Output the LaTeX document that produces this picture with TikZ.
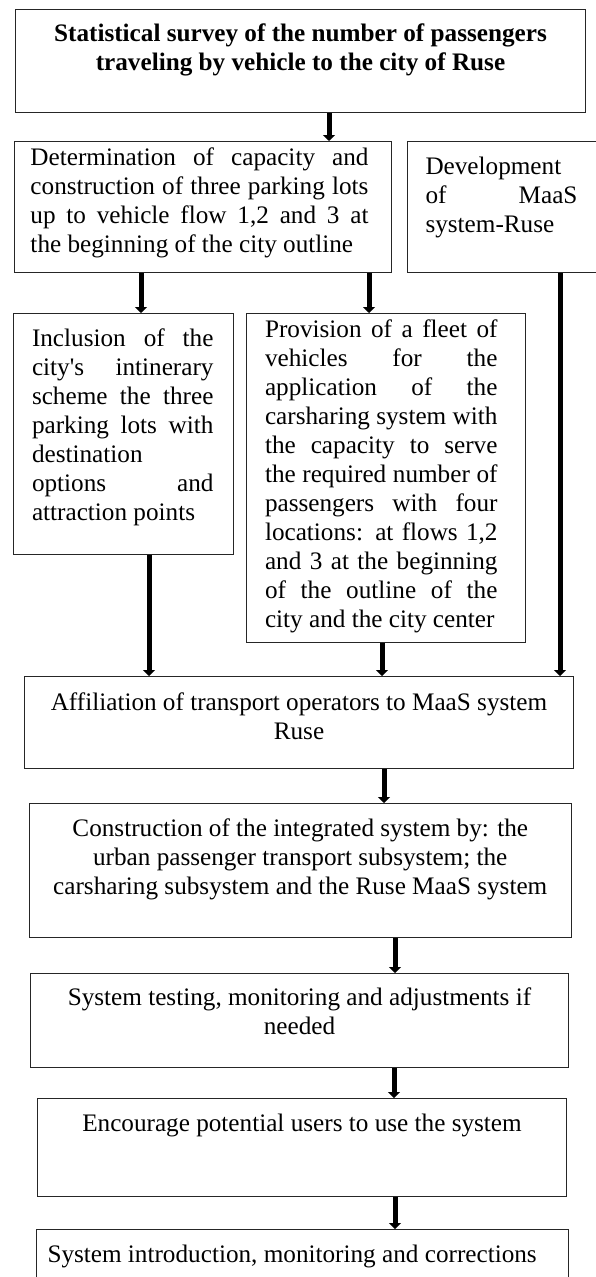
\documentclass[tikz,border=0pt]{standalone}
\usepackage{fontspec}
\setmainfont{Liberation Serif}
\usetikzlibrary{arrows.meta}

\tikzset{
  blk/.style={draw=black!85, line width=1pt, inner sep=0pt, anchor=north west,
    font=\fontsize{25.2}{29}\selectfont},
  arr/.style={line width=5pt, -{Triangle[width=12pt,length=6pt]}}
}

\begin{document}
\begin{tikzpicture}[x=1pt,y=-1pt]
\useasboundingbox (0,0) rectangle (595,1277);
% top row
\node[blk] (survey) at (15,9) {\parbox[c][103pt][t]{570pt}{\vspace*{11.7pt}\centering\bfseries\strut
  Statistical survey of the number of passengers\\ traveling by vehicle to the city of Ruse}};
\node[blk] (determ) at (14,141) {\parbox[c][131pt][t]{377pt}{\vspace*{3.7pt}\leftskip=16pt\rightskip=23pt\strut
  Determination of capacity and\linebreak construction of three parking lots\linebreak
  up to vehicle flow 1,2 and 3 at\linebreak the beginning of the city outline}};
\node[blk] (devel) at (407,141) {\parbox[c][131pt][t]{193pt}{\vspace*{12.7pt}\leftskip=18pt\rightskip=23pt\strut
  Development\newline of MaaS\linebreak system-Ruse}};
% middle row
\node[blk] (incl) at (13,313) {\parbox[c][241pt][t]{220pt}{\vspace*{12.7pt}\leftskip=18.5pt\rightskip=20pt\strut
  Inclusion of the\linebreak city\textquotesingle s intinerary\linebreak scheme the three\linebreak
  parking lots with\linebreak destination\newline options and\linebreak attraction points}};
\node[blk] (prov) at (246,313) {\parbox[c][329pt][t]{279pt}{\vspace*{3.7pt}\leftskip=18.5pt\rightskip=28pt\strut
  Provision of a fleet of\linebreak vehicles for the\linebreak application of the\linebreak
  carsharing system with\linebreak the capacity to serve\linebreak the required number of\linebreak
  passengers with four\linebreak locations: at flows 1,2\linebreak and 3 at the beginning\linebreak
  of the outline of the\linebreak city and the city center}};
% lower column
\node[blk] (affil) at (24,676) {\parbox[c][92pt][t]{549pt}{\vspace*{13.7pt}\centering\strut
  Affiliation of transport operators to MaaS system\\ Ruse}};
\node[blk] (constr) at (28.5,803) {\parbox[c][134pt][t]{542.5pt}{\vspace*{12.7pt}\centering\strut
  Construction of the integrated system by: the\\ urban passenger transport subsystem; the\\
  carsharing subsystem and the Ruse MaaS system}};
\node[blk] (test) at (30,973) {\parbox[c][94pt][t]{538pt}{\vspace*{11.7pt}\centering\strut
  System testing, monitoring and adjustments if\\ needed}};
\node[blk] (encour) at (37,1098) {\parbox[c][98pt][t]{529pt}{\vspace*{12.7pt}\centering\strut
  Encourage potential users to use the system}};
\node[blk] (intro) at (36,1229) {\parbox[c][71pt][t]{532pt}{\vspace*{12.7pt}\leftskip=11pt\strut
  System introduction, monitoring and corrections}};
% arrows
\draw[arr] (329,0 |- survey.south) -- (329,0 |- determ.north);
\draw[arr] (141,0 |- determ.south) -- (141,0 |- incl.north);
\draw[arr] (369,0 |- determ.south) -- (369,0 |- prov.north);
\draw[arr] (560,0 |- devel.south) -- (560,0 |- affil.north);
\draw[arr] (149,0 |- incl.south) -- (149,0 |- affil.north);
\draw[arr] (382,0 |- prov.south) -- (382,0 |- affil.north);
\draw[arr] (384,0 |- affil.south) -- (384,0 |- constr.north);
\draw[arr] (395,0 |- constr.south) -- (395,0 |- test.north);
\draw[arr] (394,0 |- test.south) -- (394,0 |- encour.north);
\draw[arr] (395,0 |- encour.south) -- (395,0 |- intro.north);
\end{tikzpicture}
\end{document}
